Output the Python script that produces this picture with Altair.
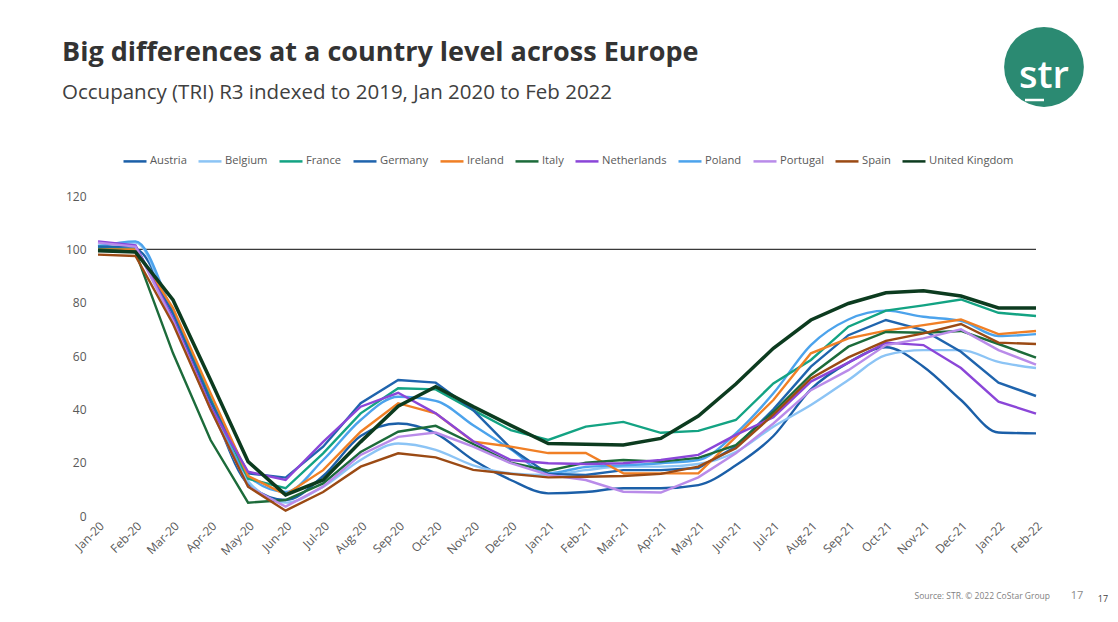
import altair as alt
import pandas as pd

months = ["Jan-20", "Feb-20", "Mar-20", "Apr-20", "May-20", "Jun-20", "Jul-20", "Aug-20",
          "Sep-20", "Oct-20", "Nov-20", "Dec-20", "Jan-21", "Feb-21", "Mar-21", "Apr-21",
          "May-21", "Jun-21", "Jul-21", "Aug-21", "Sep-21", "Oct-21", "Nov-21", "Dec-21",
          "Jan-22", "Feb-22"]

austria = [100, 100, 75, 42, 12, 6, 15, 30, 34.7, 31, 21, 13.5, 8.5, 9, 10.4, 10.4,
           11.6, 19, 30, 47.5, 57.5, 63.3, 56, 43.5, 31.3, 31]
belgium = [101.5, 102.5, 74, 42, 13, 5, 11, 21, 27.2, 24.8, 19, 16, 15.4, 17.2, 18.5, 18.5,
           19.5, 24, 33.5, 41.6, 51, 60.3, 62.2, 62.2, 57.8, 55.5]
france = [101, 100, 77, 44, 14, 10.4, 23.5, 38.5, 47.9, 47.5, 39.7, 32.2, 28.5, 33.5, 35.3, 31.2,
          31.9, 36, 49.7, 58.5, 71, 77, 79, 81.2, 76.2, 75]
germany = [101, 101, 76, 43, 16, 14.4, 26, 42.3, 51, 50, 39.7, 25.4, 15.8, 15.4, 17.2, 17.2,
           18, 26, 40, 56, 67.8, 73.5, 69.7, 61.6, 50, 45]
ireland = [100, 100, 78, 46, 15, 8, 17.2, 31.6, 42.3, 38.5, 27.9, 26, 23.6, 23.6, 16, 16,
           16, 29.7, 43.5, 61, 66.6, 69.5, 71.6, 73.7, 68.2, 69.4]
italy = [100, 99, 61, 28.5, 5, 6, 12.2, 24, 31.6, 33.8, 27, 20, 17, 20, 21, 20.4,
         21.8, 26.6, 39, 52.9, 63.5, 69, 68.7, 69.4, 64.5, 59.4]
netherlands = [103, 101.5, 74, 41, 16.6, 13.5, 27.8, 41, 46.2, 38.5, 28, 21, 19.8, 19.5, 19.8, 21,
               22.9, 30.4, 37, 50.4, 57.5, 65, 64.1, 55.5, 42.9, 38.4]
poland = [101, 103, 76, 44, 15, 9, 21, 36, 44.7, 43.2, 34, 25, 16, 18.4, 19, 19.8,
          21, 31, 46, 64.1, 73.7, 77, 74.7, 73.2, 67.5, 68.2]
portugal = [102.5, 101, 73, 40, 11, 3.5, 11, 22.9, 29.7, 31.3, 26, 19.8, 15.4, 13.5, 9.1, 8.8,
            14.5, 23.5, 34.7, 47.2, 54.7, 64.1, 66.6, 70, 62.2, 56.8]
spain = [98, 97.5, 72, 40, 11, 2, 9, 18.5, 23.5, 22, 17.3, 15.8, 14.5, 14.7, 15, 15.8,
         18.5, 25.4, 38, 51.6, 59.5, 65.7, 68.5, 72, 65, 64.5]
uk = [99.5, 99, 81, 51, 20.4, 7.9, 13.5, 27.8, 41.2, 48.5, 41, 34, 27.2, 26.9, 26.6, 29.1,
      37.5, 49.5, 62.9, 73.5, 79.7, 83.7, 84.5, 82.5, 78, 78]

countries = ["Austria", "Belgium", "France", "Germany", "Ireland", "Italy", "Netherlands",
             "Poland", "Portugal", "Spain", "United Kingdom"]
series = [austria, belgium, france, germany, ireland, italy, netherlands, poland, portugal,
          spain, uk]
colors = ["#1b5fa8", "#8cc4f5", "#13a383", "#1f64ad", "#f07f25", "#1c6b3a", "#8b46d8",
          "#4ca3ec", "#b98be9", "#9b4a14", "#0c3b1f"]
smooth_countries = ["Austria", "Belgium", "Poland"]

TITLE = "Big differences at a country level across Europe"
SUBTITLE = "Occupancy (TRI) R3 indexed to 2019, Jan 2020 to Feb 2022"
SOURCE = "Source: STR. © 2022 CoStar Group"
PAGE = "17"
LOGO = "str"

rows = []
for c, vals in zip(countries, series):
    for m, v in zip(months, vals):
        rows.append({"country": c, "month": m, "value": v})
df = pd.DataFrame(rows)

FONT = "Open Sans"
GRAY = "#595959"

x_enc = alt.X("month:O", sort=months, scale=alt.Scale(padding=0),
              axis=alt.Axis(title=None, labelAngle=-45, domain=False, ticks=False,
                            labelFontSize=12, labelColor=GRAY, labelFont=FONT, labelPadding=4))
y_enc = alt.Y("value:Q", scale=alt.Scale(domain=[0, 120], nice=False),
              axis=alt.Axis(title=None, values=[0, 20, 40, 60, 80, 100, 120], domain=False,
                            ticks=False, grid=False, labelFontSize=12, labelColor=GRAY,
                            labelFont=FONT, labelPadding=12))
color_enc = alt.Color("country:N", scale=alt.Scale(domain=countries, range=colors),
                      legend=alt.Legend(orient="none", legendX=24, legendY=-48,
                                        direction="horizontal", columns=11, title=None,
                                        symbolType="stroke", symbolStrokeWidth=2.5,
                                        symbolSize=529, labelFontSize=11.2, labelColor=GRAY,
                                        labelFont=FONT, columnPadding=6, labelOffset=2))
width_enc = alt.condition(alt.datum.country == "United Kingdom", alt.value(3.5), alt.value(2.4))

base = alt.Chart(df)

rule100 = alt.Chart(pd.DataFrame({"v": [100]})).mark_rule(color="#3a3a3a", strokeWidth=1.3).encode(
    y=alt.Y("v:Q"))

smooth = base.transform_filter(
    alt.FieldOneOfPredicate(field="country", oneOf=smooth_countries)
).mark_line(interpolate="monotone").encode(x=x_enc, y=y_enc, color=color_enc,
                                          strokeWidth=width_enc, detail="country:N")
linear = base.transform_filter(
    ~alt.FieldOneOfPredicate(field="country", oneOf=smooth_countries)
).mark_line().encode(x=x_enc, y=y_enc, color=color_enc, strokeWidth=width_enc,
                    detail="country:N")

title_t = alt.Chart(pd.DataFrame({"t": [TITLE]})).mark_text(
    align="left", baseline="alphabetic", font=FONT, fontSize=27, fontWeight="bold",
    color="#333333").encode(x=alt.value(-36), y=alt.value(-135), text="t:N")
subtitle_t = alt.Chart(pd.DataFrame({"t": [SUBTITLE]})).mark_text(
    align="left", baseline="alphabetic", font=FONT, fontSize=20.5, color="#404040").encode(
    x=alt.value(-36), y=alt.value(-97), text="t:N")
source_t = alt.Chart(pd.DataFrame({"t": [SOURCE]})).mark_text(
    align="right", baseline="middle", font=FONT, fontSize=8.5, color="#7f7f7f").encode(
    x=alt.value(952), y=alt.value(400), text="t:N")
page1 = alt.Chart(pd.DataFrame({"t": [PAGE]})).mark_text(
    align="center", baseline="middle", font=FONT, fontSize=11, color="#8a8a8a").encode(
    x=alt.value(979), y=alt.value(400), text="t:N")
page2 = alt.Chart(pd.DataFrame({"t": [PAGE]})).mark_text(
    align="center", baseline="middle", font=FONT, fontSize=9, color="#404040").encode(
    x=alt.value(1005), y=alt.value(403), text="t:N")

logo_c = alt.Chart(pd.DataFrame({"t": [LOGO]})).mark_circle(
    size=6362, color="#2b8a72", opacity=1).encode(x=alt.value(946), y=alt.value(-129))
logo_t = alt.Chart(pd.DataFrame({"t": [LOGO]})).mark_text(
    align="center", baseline="alphabetic", font=FONT, fontSize=38, fontWeight=600,
    color="white").encode(x=alt.value(946), y=alt.value(-108), text="t:N")
logo_u = alt.Chart(pd.DataFrame({"t": [LOGO]})).mark_rule(
    color="white", strokeWidth=2.5).encode(x=alt.value(927), x2=alt.value(946), y=alt.value(-96))

chart = alt.layer(
    rule100, smooth, linear, title_t, subtitle_t, source_t, page1, page2, logo_c, logo_t, logo_u
).properties(
    width=938, height=320,
    padding={"left": 90, "top": 188, "right": 74, "bottom": 90},
    autosize=alt.AutoSizeParams(type="none"),
    background="white",
).configure_view(stroke=None)

chart.save("out.html", embed_options={"renderer": "svg", "actions": False})
